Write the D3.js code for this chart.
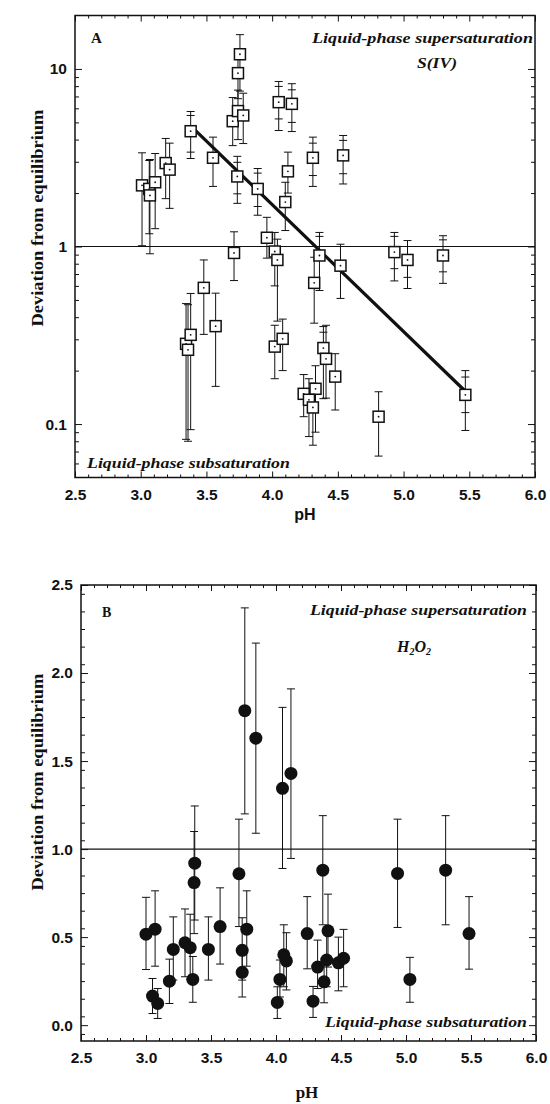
<!DOCTYPE html>
<html>
<head>
<meta charset="utf-8">
<script src="https://cdn.jsdelivr.net/npm/d3@7"></script>
<style>
  body { margin: 0; background: #fff; }
  svg { display: block; }
</style>
</head>
<body>
<div id="chart"></div>
<script>
// shared pH axis
const phTicks = [2.5, 3.0, 3.5, 4.0, 4.5, 5.0, 5.5, 6.0];

// panel A: S(IV), log scale
const yTicksA = [0.1, 1, 10];
const phA = [3.01, 3.065, 3.07, 3.11, 3.19, 3.22, 3.38, 3.55, 3.70, 3.735, 3.74, 3.74, 3.755, 3.78,
  3.89, 3.96, 4.05, 4.15, 4.12, 4.10, 4.31, 4.54, 3.71, 3.48, 3.57, 3.345, 3.36, 3.38, 4.02, 4.04,
  4.02, 4.08, 4.24, 4.36, 4.32, 4.52, 4.93, 5.03, 5.30, 5.47, 4.81, 4.48, 4.39, 4.41, 4.33, 4.28, 4.31];
const devA = [2.21, 2.11, 1.94, 2.30, 2.95, 2.71, 4.46, 3.16, 5.08, 2.48, 5.79, 9.47, 12.1, 5.47,
  2.11, 1.12, 6.50, 6.36, 2.65, 1.78, 3.16, 3.26, 0.92, 0.585, 0.356, 0.283, 0.262, 0.318, 0.937, 0.84,
  0.273, 0.302, 0.148, 0.89, 0.624, 0.78, 0.93, 0.84, 0.89, 0.146, 0.110, 0.185, 0.268, 0.233, 0.158, 0.137, 0.124];
const loA = [1.01, 1.18, 0.91, 1.26, 1.86, 1.64, 3.13, 2.18, 3.7, 1.75, 4.0, 6.8, 7.5, 3.8,
  1.50, 0.86, 4.5, 4.44, 2.0, 1.23, 2.18, 2.25, 0.643, 0.32, 0.163, 0.082, 0.08, 0.093, 0.6, 0.38,
  0.18, 0.20, 0.11, 0.565, 0.37, 0.51, 0.64, 0.58, 0.62, 0.092, 0.066, 0.12, 0.139, 0.14, 0.09, 0.085, 0.076];
const hiA = [3.37, 3.05, 3.09, 3.34, 4.06, 3.82, 5.76, 4.13, 6.9, 3.22, 7.6, 12.5, 15.6, 7.3,
  2.75, 1.46, 8.5, 8.26, 3.4, 2.3, 4.13, 4.22, 1.21, 0.84, 0.546, 0.477, 0.47, 0.544, 1.2, 1.1,
  0.36, 0.39, 0.19, 1.2, 0.87, 1.03, 1.2, 1.08, 1.15, 0.20, 0.152, 0.249, 0.354, 0.36, 0.213, 0.18, 0.17];
// inner cross-bars (null = none)
const innerLoA = [null, null, null, null, null, null, 3.4, null, null, 1.98, null, null, null, null,
  1.68, null, 5.23, 5.0, null, null, 2.51, 2.57, null, null, null, null, null, null, null, null,
  null, null, null, null, null, null, 0.75, 0.67, 0.72, 0.116, null, null, null, null, null, null, null];
const innerHiA = [null, null, null, null, null, null, 5.47, null, null, 2.98, null, null, null, null,
  2.59, null, 7.97, 7.63, null, null, 3.82, 3.96, null, null, null, null, null, null, null, null,
  null, null, null, 1.14, null, null, 1.14, null, 1.09, 0.184, null, null, 0.329, null, null, null, null];
const fitPh = [3.39, 5.47];
const fitDev = [4.7, 0.153];

// panel B: H2O2, linear scale
const yTicksB = [0.0, 0.5, 1.0, 1.5, 2.0, 2.5];
const phB = [3.00, 3.07, 3.05, 3.09, 3.18, 3.21, 3.30, 3.34, 3.36, 3.375, 3.37, 3.48, 3.57, 3.715,
  3.74, 3.74, 3.775, 3.76, 3.845, 4.05, 4.115, 4.01, 4.03, 4.06, 4.08, 4.24, 4.285, 4.36, 4.40,
  4.32, 4.37, 4.39, 4.48, 4.52, 4.935, 5.03, 5.305, 5.485];
const devB = [0.517, 0.545, 0.165, 0.123, 0.25, 0.43, 0.468, 0.44, 0.26, 0.92, 0.81, 0.43, 0.56, 0.86,
  0.425, 0.30, 0.545, 1.786, 1.63, 1.345, 1.43, 0.129, 0.26, 0.40, 0.365, 0.52, 0.136, 0.88, 0.536,
  0.33, 0.246, 0.37, 0.354, 0.38, 0.862, 0.26, 0.88, 0.52];
const loB = [0.316, 0.335, 0.066, 0.038, 0.123, 0.256, 0.275, 0.26, 0.13, 0.597, 0.52, 0.256, 0.347, 0.56,
  0.256, 0.16, 0.335, 1.2, 1.09, 0.89, 0.947, 0.038, 0.16, 0.218, 0.20, 0.32, 0.044, 0.57, 0.33,
  0.208, 0.127, 0.218, 0.195, 0.218, 0.555, 0.13, 0.57, 0.318];
const hiB = [0.726, 0.763, 0.265, 0.208, 0.375, 0.615, 0.66, 0.63, 0.39, 1.245, 1.10, 0.615, 0.78, 1.17,
  0.61, 0.43, 0.763, 2.37, 2.17, 1.805, 1.91, 0.218, 0.37, 0.57, 0.525, 0.73, 0.22, 1.19, 0.744,
  0.483, 0.36, 0.52, 0.50, 0.544, 1.17, 0.385, 1.19, 0.73];

const width = 550;
const height = 1104;
const sans = '"Liberation Sans", Arial, sans-serif';
const serif = '"Liberation Serif", "Times New Roman", serif';
const ink = '#111';

const svg = d3.select('#chart')
  .append('svg')
  .attr('width', width)
  .attr('height', height);

const minorPh = d3.range(26, 60).map((d) => d / 10).filter((d) => Math.round(d * 10) % 5 !== 0);

function tickAxis(g, axis) {
  g.call(axis)
    .call((s) => s.select('.domain').remove())
    .call((s) => s.selectAll('line').attr('stroke', ink).attr('stroke-width', 1));
  return g;
}

function drawFrame(g, x, y, yMajor, yMinor, yFormat, xFont, yFont) {
  const [x0, x1] = x.range();
  const [y0, y1] = y.range();

  // bottom with labels
  tickAxis(g.append('g').attr('transform', `translate(0,${y0})`),
    d3.axisBottom(x).tickValues(phTicks).tickSize(-6).tickPadding(11).tickFormat(d3.format('.1f')))
    .selectAll('text')
    .attr('font-family', xFont.family)
    .attr('font-weight', 'bold')
    .attr('font-size', xFont.size)
    .attr('fill', ink);
  tickAxis(g.append('g').attr('transform', `translate(0,${y0})`),
    d3.axisBottom(x).tickValues(minorPh).tickSize(-3).tickFormat(''));
  // top
  tickAxis(g.append('g').attr('transform', `translate(0,${y1})`),
    d3.axisTop(x).tickValues(phTicks).tickSize(-6).tickFormat(''));
  tickAxis(g.append('g').attr('transform', `translate(0,${y1})`),
    d3.axisTop(x).tickValues(minorPh).tickSize(-3).tickFormat(''));
  // left with labels
  tickAxis(g.append('g').attr('transform', `translate(${x0},0)`),
    d3.axisLeft(y).tickValues(yMajor).tickSize(-7).tickPadding(8).tickFormat(yFormat))
    .selectAll('text')
    .attr('font-family', yFont.family)
    .attr('font-weight', 'bold')
    .attr('font-size', yFont.size)
    .attr('fill', ink);
  tickAxis(g.append('g').attr('transform', `translate(${x0},0)`),
    d3.axisLeft(y).tickValues(yMinor).tickSize(-4).tickFormat(''));
  // right
  tickAxis(g.append('g').attr('transform', `translate(${x1},0)`),
    d3.axisRight(y).tickValues(yMajor).tickSize(-7).tickFormat(''));
  tickAxis(g.append('g').attr('transform', `translate(${x1},0)`),
    d3.axisRight(y).tickValues(yMinor).tickSize(-4).tickFormat(''));

  g.append('rect')
    .attr('x', x0)
    .attr('y', y1)
    .attr('width', x1 - x0)
    .attr('height', y0 - y1)
    .attr('fill', 'none')
    .attr('stroke', ink)
    .attr('stroke-width', 1.5);

  // equilibrium line
  g.append('line')
    .attr('x1', x0)
    .attr('x2', x1)
    .attr('y1', y(1))
    .attr('y2', y(1))
    .attr('stroke', ink)
    .attr('stroke-width', 1.2);
}

function errorBars(g, x, y, ph, lo, hi, capW) {
  const I = d3.range(ph.length);
  g.append('g')
    .attr('stroke', ink)
    .attr('stroke-width', 1)
    .selectAll('path')
    .data(I)
    .join('path')
    .attr('fill', 'none')
    .attr('d', (i) => {
      const cx = x(ph[i]);
      return `M${cx},${y(lo[i])}V${y(hi[i])}`
        + `M${cx - capW / 2},${y(hi[i])}h${capW}`
        + `M${cx - capW / 2},${y(lo[i])}h${capW}`;
    });
}

function annotation(g, text, x, y, len, size, anchor) {
  const t = g.append('text')
    .attr('x', x)
    .attr('y', y)
    .attr('text-anchor', anchor || 'start')
    .attr('font-family', serif)
    .attr('font-weight', 'bold')
    .attr('font-style', 'italic')
    .attr('font-size', size)
    .attr('fill', ink)
    .text(text);
  if (len) t.attr('textLength', len).attr('lengthAdjust', 'spacingAndGlyphs');
  return t;
}

function yTitle(g, cx, cy) {
  g.append('text')
    .attr('transform', `translate(${cx},${cy}) rotate(-90)`)
    .attr('text-anchor', 'middle')
    .attr('font-family', serif)
    .attr('font-weight', 'bold')
    .attr('font-size', 16)
    .attr('fill', ink)
    .attr('textLength', 217)
    .attr('lengthAdjust', 'spacingAndGlyphs')
    .text('Deviation from equilibrium');
}

// ---------- panel A ----------
const gA = svg.append('g');
const xA = d3.scaleLinear([2.5, 6.0], [75, 535]);
const yA = d3.scaleLog([0.05, 20], [477.5, 15.5]);
const minorA = [0.06, 0.07, 0.08, 0.09, 0.2, 0.3, 0.4, 0.5, 0.6, 0.7, 0.8, 0.9, 2, 3, 4, 5, 6, 7, 8, 9];

drawFrame(gA, xA, yA, yTicksA, minorA, (d) => (d < 1 ? '0.1' : String(d)),
  { family: sans, size: 15.5 }, { family: sans, size: 15.5 });

errorBars(gA, xA, yA, phA, loA, hiA, 8);

// inner cross-bars
const capsA = [];
phA.forEach((p, i) => {
  if (innerLoA[i] !== null) capsA.push([p, innerLoA[i]]);
  if (innerHiA[i] !== null) capsA.push([p, innerHiA[i]]);
});
gA.append('g')
  .attr('stroke', ink)
  .attr('stroke-width', 1)
  .selectAll('line')
  .data(capsA)
  .join('line')
  .attr('x1', (d) => xA(d[0]) - 4)
  .attr('x2', (d) => xA(d[0]) + 4)
  .attr('y1', (d) => yA(d[1]))
  .attr('y2', (d) => yA(d[1]));

// fitted line
gA.append('path')
  .datum(d3.zip(fitPh, fitDev))
  .attr('fill', 'none')
  .attr('stroke', ink)
  .attr('stroke-width', 3.2)
  .attr('d', d3.line().x((d) => xA(d[0])).y((d) => yA(d[1])));

const sq = 11;
const pointsA = gA.append('g')
  .selectAll('g')
  .data(d3.range(phA.length))
  .join('g')
  .attr('transform', (i) => `translate(${xA(phA[i])},${yA(devA[i])})`);
pointsA.append('rect')
  .attr('x', -sq / 2)
  .attr('y', -sq / 2)
  .attr('width', sq)
  .attr('height', sq)
  .attr('fill', '#fff')
  .attr('stroke', ink)
  .attr('stroke-width', 1.5);
pointsA.append('circle')
  .attr('r', 0.9)
  .attr('fill', ink);

gA.append('text')
  .attr('x', 91)
  .attr('y', 43)
  .attr('font-family', serif)
  .attr('font-weight', 'bold')
  .attr('font-size', 15)
  .attr('fill', ink)
  .text('A');

annotation(gA, 'Liquid-phase supersaturation', 533, 43, 221, 15.5, 'end');
annotation(gA, 'S(IV)', 437, 68, 40, 15.5, 'middle');
annotation(gA, 'Liquid-phase subsaturation', 87, 468, 203, 15.5);

gA.append('text')
  .attr('x', 305)
  .attr('y', 520)
  .attr('text-anchor', 'middle')
  .attr('font-family', sans)
  .attr('font-weight', 'bold')
  .attr('font-size', 16)
  .attr('fill', ink)
  .text('pH');

yTitle(gA, 43, 218);

// ---------- panel B ----------
const gB = svg.append('g');
const xB = d3.scaleLinear([2.5, 6.0], [81, 536]);
const yB = d3.scaleLinear([-0.09, 2.5], [1041, 585]);
const minorB = d3.range(-0.05, 2.5, 0.1).map((d) => +d.toFixed(2)).filter((d) => d > -0.09);

drawFrame(gB, xB, yB, yTicksB, minorB, d3.format('.1f'),
  { family: sans, size: 15.5 }, { family: sans, size: 15.5 });

errorBars(gB, xB, yB, phB, loB, hiB, 8);

gB.append('g')
  .selectAll('circle')
  .data(d3.range(phB.length))
  .join('circle')
  .attr('cx', (i) => xB(phB[i]))
  .attr('cy', (i) => yB(devB[i]))
  .attr('r', 6.5)
  .attr('fill', ink);

gB.append('text')
  .attr('x', 102)
  .attr('y', 617)
  .attr('font-family', serif)
  .attr('font-weight', 'bold')
  .attr('font-size', 14)
  .attr('fill', ink)
  .text('B');

annotation(gB, 'Liquid-phase supersaturation', 527, 615, 217, 15, 'end');
const h2o2 = annotation(gB, '', 397, 652, null, 16);
h2o2.append('tspan').text('H');
h2o2.append('tspan').attr('font-size', 10).attr('dy', 3).text('2');
h2o2.append('tspan').attr('dy', -3).text('O');
h2o2.append('tspan').attr('font-size', 10).attr('dy', 3).text('2');
annotation(gB, 'Liquid-phase subsaturation', 527, 1027, 202, 15.5, 'end');

gB.append('text')
  .attr('x', 307)
  .attr('y', 1098)
  .attr('text-anchor', 'middle')
  .attr('font-family', serif)
  .attr('font-weight', 'bold')
  .attr('font-size', 17)
  .attr('fill', ink)
  .text('pH');

yTitle(gB, 43, 782);
</script>
</body>
</html>
